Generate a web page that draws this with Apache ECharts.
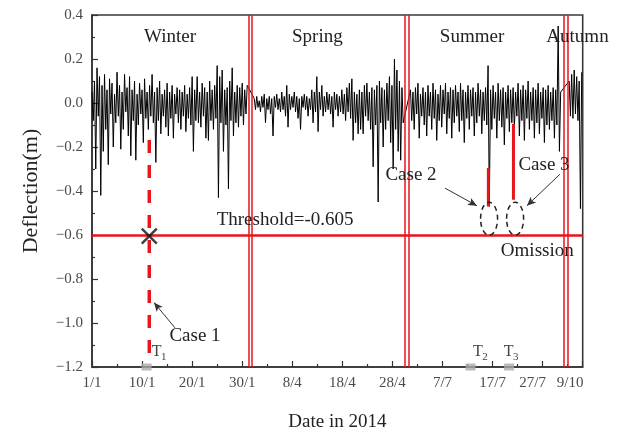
<!DOCTYPE html>
<html><head><meta charset="utf-8">
<script src="https://cdn.jsdelivr.net/npm/echarts@6/dist/echarts.min.js"></script>
<style>html,body{margin:0;padding:0;background:#fff}#c{width:617px;height:437px}</style>
</head><body><div id="c"></div>
<script>
// ---- axis ticks ----
const xTickLabels = ['1/1','10/1','20/1','30/1','8/4','18/4','28/4','7/7','17/7','27/7','9/10'];
const xTickDays   = [0,10,20,30,40,50,60,70,80,88,95.5];
// ---- sampled deflection (m), one array per season ----
const segStart = [0, 32.4, 63.6, 95.3];
const sampleStep = 0.25;
const winter = [
0.05,-0.08,0.10,-0.30,0.16,-0.06,0.12,-0.42,0.08,-0.22,
0.13,-0.12,0.06,-0.28,0.11,-0.05,0.09,-0.20,0.04,-0.09,
0.14,-0.06,0.08,-0.21,0.05,-0.12,0.13,-0.04,0.07,-0.15,
0.12,-0.24,0.06,-0.08,0.10,-0.26,0.04,-0.10,0.09,-0.05,
0.06,-0.18,0.11,-0.07,0.05,-0.12,0.08,-0.06,0.13,-0.09,
0.05,-0.27,0.07,-0.08,0.10,-0.14,0.04,-0.06,0.06,-0.11,
0.09,-0.15,0.05,-0.07,0.08,-0.16,0.04,-0.05,0.07,-0.09,
0.06,-0.12,0.05,-0.06,0.08,-0.13,0.04,-0.07,0.07,-0.10,
0.12,-0.22,0.06,-0.08,0.12,-0.09,0.05,-0.11,0.09,-0.06,
0.07,-0.16,0.05,-0.17,0.10,-0.08,0.06,-0.12,0.08,-0.07,
0.17,-0.43,0.12,-0.09,0.15,-0.22,0.06,-0.10,0.07,-0.39,
0.10,-0.08,0.16,-0.15,0.05,-0.09,0.08,-0.11,0.07,-0.06,
0.09,-0.10,0.06,-0.05,0.08];
const spring = [
0.02,-0.03,0.03,-0.02,0.01,-0.04,0.03,-0.02,0.04,-0.09,
0.02,-0.03,0.03,-0.05,0.02,-0.15,0.03,-0.02,0.04,-0.03,
0.02,-0.04,0.05,-0.03,0.03,-0.06,0.08,-0.11,0.04,-0.03,
0.03,-0.02,0.05,-0.04,0.03,-0.07,0.02,-0.12,0.03,-0.02,
0.04,-0.03,0.03,-0.06,0.02,-0.03,0.06,-0.09,0.05,-0.04,
0.12,-0.13,0.05,-0.03,0.08,-0.06,0.03,-0.04,0.05,-0.03,
0.04,-0.05,0.03,-0.11,0.05,-0.03,0.04,-0.06,0.03,-0.04,
0.06,-0.05,0.04,-0.08,0.07,-0.04,0.09,-0.07,0.11,-0.17,
0.05,-0.09,0.04,-0.14,0.06,-0.12,0.05,-0.14,0.08,-0.06,
0.09,-0.08,0.05,-0.12,0.07,-0.29,0.06,-0.10,0.08,-0.45,
0.10,-0.09,0.07,-0.20,0.06,-0.12,0.09,-0.08,0.12,-0.18,
0.08,-0.30,0.20,-0.12,0.15,-0.22,0.10,-0.26,0.07,-0.09];
const summer = [
0.06,-0.08,0.05,-0.12,0.07,-0.05,0.09,-0.16,0.04,-0.06,
0.07,-0.10,0.05,-0.15,0.08,-0.06,0.05,-0.12,0.09,-0.07,
0.06,-0.17,0.04,-0.08,0.08,-0.11,0.06,-0.05,0.09,-0.14,
0.05,-0.07,0.07,-0.16,0.06,-0.09,0.08,-0.06,0.05,-0.13,
0.09,-0.08,0.06,-0.18,0.05,-0.07,0.08,-0.12,0.06,-0.06,
0.07,-0.15,0.05,-0.09,0.09,-0.06,0.06,-0.14,0.05,-0.08,
0.07,-0.10,0.17,-0.47,0.06,-0.12,0.08,-0.07,0.05,-0.16,
0.09,-0.08,0.06,-0.11,0.07,-0.19,0.05,-0.07,0.08,-0.13,
0.06,-0.09,0.07,-0.12,0.05,-0.06,0.09,-0.15,0.06,-0.08,
0.08,-0.17,0.06,-0.07,0.10,-0.12,0.05,-0.08,0.07,-0.16,
0.06,-0.09,0.09,-0.14,0.05,-0.07,0.07,-0.18,0.06,-0.10,
0.08,-0.12,0.05,-0.08,0.07,-0.16,0.06,-0.10,0.35,-0.22,
0.05];
const autumn = [0.10,-0.06,0.13,-0.07,0.15,-0.05,0.12,-0.08,0.10,-0.48,0.14];
// ---- annotations (data units) ----
const seasonNames = ['Winter','Spring','Summer','Autumn'];
const seasonLabelDays = [15.6, 45.0, 75.9, 96.96];
const seasonLabelY = 0.3;
const seasonBoundaries = [31.6, 62.8, 94.66];
const threshold = -0.605;
const case1Day = 11.44, case1Range = [-0.168, -1.147];
const case2Day = 79.16, case2Range = [-0.296, -0.47];
const case3Day = 84.17, case3Range = [-0.096, -0.44];
const crossPoint = [11.44, -0.605];
const tMarkDays = [10.9, 75.6, 83.3];
const tLabelDays = [12.92, 77.09, 83.22];
const tLabelSubs = ['1','2','3'];
const tLabelY = -1.129;
const omissionCenters = [[79.3,-0.526],[84.5,-0.526]];
const arrows = [
  [[16.57,-1.022],[12.38,-0.907]],
  [[70.49,-0.387],[76.88,-0.467]],
  [[93.45,-0.324],[86.86,-0.467]]
];
const notes = [
  {text:'Case 1', at:[20.57,-1.058], align:'center'},
  {text:'Case 2', at:[63.71,-0.329], align:'center'},
  {text:'Case 3', at:[90.27,-0.284], align:'center'},
  {text:'Omission', at:[88.93,-0.674], align:'center'},
  {text:'Threshold=-0.605', at:[24.9,-0.533], align:'left'}
];

const FONT = '"Liberation Serif","Times New Roman",serif';
const RED = '#e8151c';
const lineData = [];
[winter, spring, summer, autumn].forEach((seg, k) => {
  seg.forEach((v, i) => lineData.push([segStart[k] + i * sampleStep, v]));
});

const redMarks = [];
seasonBoundaries.forEach(b => { redMarks.push({xAxis: b - 0.36}); redMarks.push({xAxis: b + 0.36}); });
redMarks.push({yAxis: threshold, lineStyle: {width: 2.6, color: RED}});

const chart = echarts.init(document.getElementById('c'), null, {renderer: 'canvas'});
const option = {
  animation: false,
  grid: {left: 92, right: 34.3, top: 15, bottom: 62, show: true, borderColor: '#3a3a3a', borderWidth: 1.6, backgroundColor: 'transparent'},
  xAxis: {
    type: 'value', min: 0, max: 98, interval: 10,
    name: 'Date in 2014', nameLocation: 'middle', nameGap: 46,
    nameTextStyle: {fontFamily: FONT, fontSize: 19, color: '#222'},
    axisLine: {onZero: false, lineStyle: {color: '#333', width: 1.5}},
    axisTick: {inside: true, length: 6, lineStyle: {color: '#333', width: 1.2}},
    minorTick: {show: true, splitNumber: 2, length: 3, lineStyle: {color: '#333', width: 1.2}},
    splitLine: {show: false},
    axisLabel: {
      customValues: xTickDays,
      formatter: v => { const i = xTickDays.findIndex(d => Math.abs(d - v) < 1e-6); return i >= 0 ? xTickLabels[i] : ''; },
      fontFamily: FONT, fontSize: 15, color: '#4a4a4a', margin: 9
    }
  },
  yAxis: {
    type: 'value', min: -1.2, max: 0.4, interval: 0.2,
    name: 'Deflection(m)', nameLocation: 'middle', nameGap: 50,
    nameTextStyle: {fontFamily: FONT, fontSize: 22, color: '#222'},
    axisLine: {onZero: false, lineStyle: {color: '#333', width: 1.5}},
    axisTick: {inside: true, length: 6, lineStyle: {color: '#333', width: 1.2}},
    minorTick: {show: true, splitNumber: 2, length: 3, lineStyle: {color: '#333', width: 1.2}},
    splitLine: {show: false},
    axisLabel: {
      formatter: v => (v < -1e-9 ? '\u2212' : '') + Math.abs(v).toFixed(1),
      fontFamily: FONT, fontSize: 15, color: '#4a4a4a', margin: 9
    }
  },
  series: [
    {type: 'line', data: lineData, showSymbol: false, symbol: 'none', z: 2,
     lineStyle: {color: '#000', width: 1.0}, silent: true},
    {type: 'line', data: [[case1Day, case1Range[0]], [case1Day, case1Range[1]]], symbol: 'none', z: 4,
     lineStyle: {color: RED, width: 3.5, type: [13, 12]}, silent: true,
     markLine: {silent: true, symbol: 'none', label: {show: false}, animation: false,
       lineStyle: {color: RED, width: 1.5, type: 'solid'}, data: redMarks}},
    {type: 'line', data: [[case2Day, case2Range[0]], [case2Day, case2Range[1]]], symbol: 'none', z: 4,
     lineStyle: {color: RED, width: 3}, silent: true,
     markLine: {silent: true, symbol: ['none', 'arrow'], symbolSize: [6, 9], label: {show: false}, animation: false,
       lineStyle: {color: '#333', width: 1, type: 'solid'},
       data: arrows.map(a => [{coord: a[0]}, {coord: a[1]}])}},
    {type: 'line', data: [[case3Day, case3Range[0]], [case3Day, case3Range[1]]], symbol: 'none', z: 4,
     lineStyle: {color: RED, width: 3}, silent: true},
    {type: 'scatter', data: [crossPoint], z: 6, symbol: 'path://M0,0L20,20M20,0L0,20', symbolSize: 15,
     itemStyle: {color: 'rgba(0,0,0,0)', borderColor: '#111', borderWidth: 2.5}, silent: true},
    {type: 'scatter', data: tMarkDays.map(d => [d, -1.2]), z: 6, symbol: 'rect', symbolSize: [10, 7], clip: false,
     itemStyle: {color: '#aaaaaa'}, silent: true}
  ]
};
chart.setOption(option);

const P = (x, y) => chart.convertToPixel({gridIndex: 0}, [x, y]);
const g = [];
function addText(text, at, size, align, color, dx, dy) {
  const p = P(at[0], at[1]);
  g.push({type: 'text', x: p[0] + (dx || 0), y: p[1] + (dy || 0), z: 100,
    style: {text: text, fontFamily: FONT, fontSize: size, fill: color, align: align, verticalAlign: 'middle',
            textAlign: align, textVerticalAlign: 'middle'}});
}
seasonNames.forEach((s, i) => addText(s, [seasonLabelDays[i], seasonLabelY], 19, 'center', '#222'));
notes.forEach(n => addText(n.text, n.at, 19, n.align, '#222'));
tLabelDays.forEach((d, i) => {
  addText('T', [d, tLabelY], 16, 'center', '#444');
  addText(tLabelSubs[i], [d, tLabelY], 11, 'center', '#444', 7, 6);
});
omissionCenters.forEach(c => {
  const p = P(c[0], c[1]);
  g.push({type: 'ellipse', z: 100, shape: {cx: p[0], cy: p[1], rx: 8.5, ry: 16.5},
    style: {fill: 'none', stroke: '#222', lineWidth: 1.5, lineDash: [5, 4]}});
});
chart.setOption({graphic: g});
</script>
</body></html>
